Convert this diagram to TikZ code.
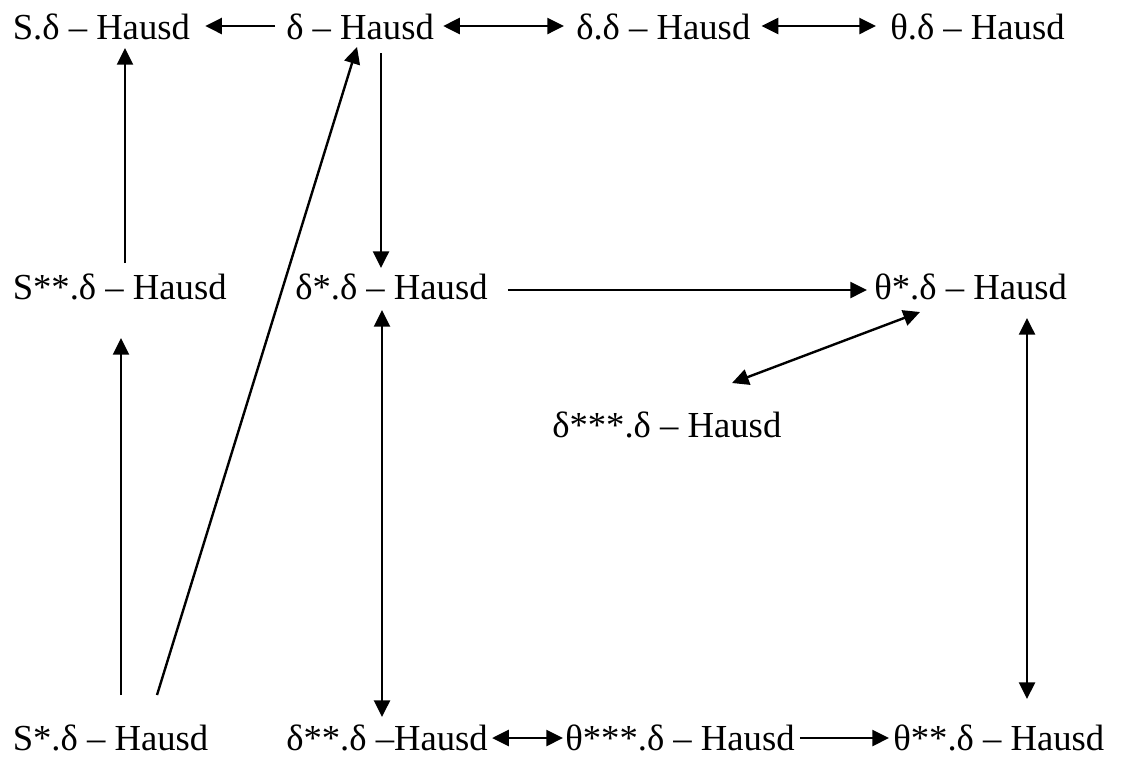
\documentclass[tikz,border=0pt]{standalone}
\usepackage{fontspec}
\setmainfont{Liberation Serif}
\usetikzlibrary{arrows.meta}
\begin{document}
\begin{tikzpicture}[x=0.75pt,y=-0.75pt,
  lbl/.style={inner sep=0pt,anchor=base west,font=\fontsize{27.5}{33}\selectfont},
  arr/.style={line width=1.8pt,-{Triangle[length=12.5pt,width=12pt]}},
  darr/.style={line width=1.8pt,{Triangle[length=12.5pt,width=12pt]}-{Triangle[length=12.5pt,width=12pt]}}]
\useasboundingbox (0,0) rectangle (1126,758);
% row 1
\node[lbl] (A) at (12.5,39) {S.δ – Hausd};
\node[lbl] (B) at (286,39) {δ – Hausd};
\node[lbl] (C) at (576,39) {δ.δ – Hausd};
\node[lbl] (D) at (890,39) {θ.δ – Hausd};
% row 2
\node[lbl] (E) at (12.5,299) {S**.δ – Hausd};
\node[lbl] (F) at (295,299) {δ*.δ – Hausd};
\node[lbl] (G) at (874,299) {θ*.δ – Hausd};
\node[lbl] (H) at (552,437) {δ***.δ – Hausd};
% row 3
\node[lbl] (I) at (12.5,750) {S*.δ – Hausd};
\node[lbl] (J) at (286,750) {δ**.δ –Hausd};
\node[lbl] (K) at (565,750) {θ***.δ – Hausd};
\node[lbl] (L) at (893,750) {θ**.δ – Hausd};
% horizontal connectors
\draw[arr] ([shift={(-11,-13)}]B.base west) -- ([shift={(15,-13)}]A.base east);
\draw[darr] ([shift={(9,-13)}]B.base east) -- ([shift={(-12,-13)}]C.base west);
\draw[darr] ([shift={(11,-13)}]C.base east) -- ([shift={(-14,-13)}]D.base west);
\draw[arr] ([shift={(20,-9)}]F.base east) -- ([shift={(-7,-9)}]G.base west);
\draw[darr] ([shift={(4,-12)}]J.base east) -- ([shift={(-2,-12)}]K.base west);
\draw[arr] ([shift={(5,-12)}]K.base east) -- ([shift={(-4,-12)}]L.base west);
% vertical / diagonal connectors
\draw[arr] ([shift={(112.5,-36)}]E.base west) -- ([shift={(112.5,9)}]A.base west);
\draw[arr] ([shift={(108.5,-55)}]I.base west) -- ([shift={(108.5,39)}]E.base west);
\draw[arr] ([shift={(144.5,-55)}]I.base west) -- ([shift={(71,8)}]B.base west);
\draw[arr] ([shift={(95,14)}]B.base west) -- ([shift={(86,-31)}]F.base west);
\draw[darr] ([shift={(87,11)}]F.base west) -- ([shift={(96,-33)}]J.base west);
\draw[darr] ([shift={(153,19)}]G.base west) -- ([shift={(134,-51)}]L.base west);
\draw[darr] ([shift={(46,13)}]G.base west) -- ([shift={(180,-54)}]H.base west);
\end{tikzpicture}
\end{document}
